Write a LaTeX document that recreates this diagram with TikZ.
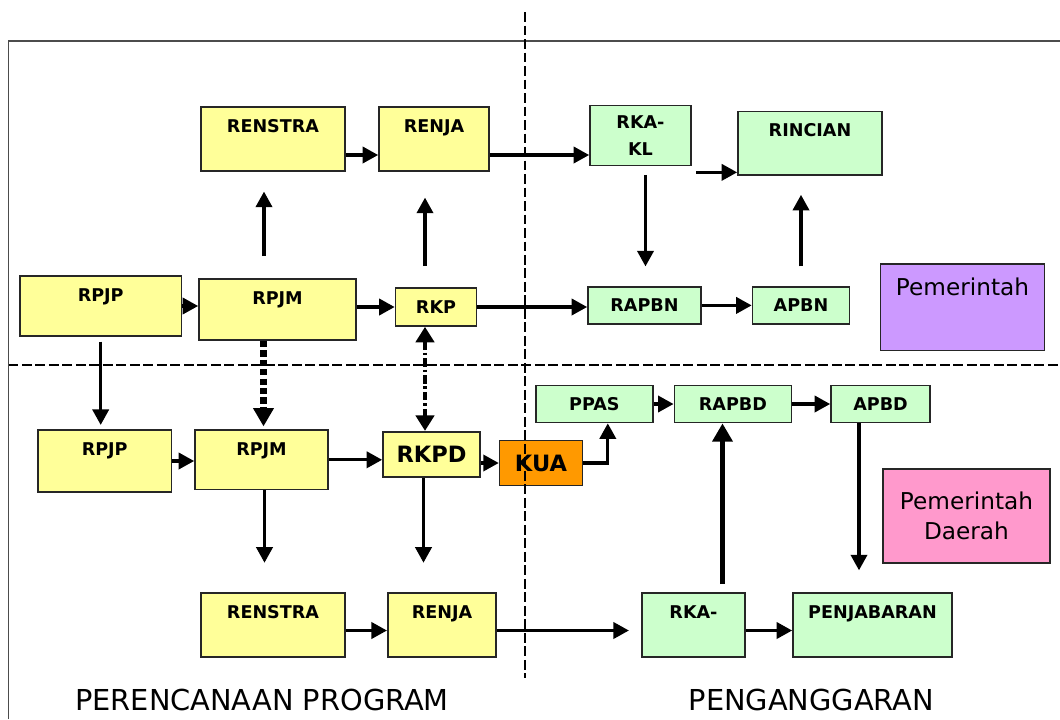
\documentclass[tikz,border=0pt]{standalone}
\usepackage{fontspec}
\setmainfont{DejaVu Sans}
\usetikzlibrary{arrows.meta,calc}

\definecolor{kuning}{HTML}{FFFF99}
\definecolor{hijau}{HTML}{CCFFCC}
\definecolor{oranye}{HTML}{FF9900}
\definecolor{ungu}{HTML}{CC99FF}
\definecolor{merahmuda}{HTML}{FF99CC}

\begin{document}
\begin{tikzpicture}[x=0.025cm, y=-0.025cm,
    >={Triangle[length=11pt,width=11.5pt]},
    box/.style={ draw=black!85, line width=1.2pt, inner sep=0pt,
      font=\fontsize{12.5}{14}\selectfont\bfseries },
    tallbox/.style={ box, text height=18pt, text depth=#1 },
    flatbox/.style={ box, minimum height=#1 },
    arrow/.style={ ->, line width=2.2pt },
    bigarrow/.style={ ->, line width=4.2pt,
      >={Triangle[length=13pt,width=14pt]} },
    dasharrow/.style={ ->, line width=5pt, dash pattern=on 4.5pt off 2.2pt,
      >={Triangle[length=13pt,width=14pt]} },
    dotarrow/.style={ <->, line width=2.6pt,
      dash pattern=on 6pt off 2pt on 2pt off 2pt,
      >={Triangle[length=11pt,width=13pt]} },
    divider/.style={ line width=2pt, dash pattern=on 7pt off 2.6pt },
    title/.style={ anchor=base, font=\fontsize{20.5}{24}\selectfont } ]
  \useasboundingbox (0,0) rectangle (1060,719);

  % frame
  \draw[black!70, line width=1.4pt] (8.5,719) -- (8.5,40.6) -- (1060,40.6);

  % boxes
  \foreach \x/\y/\w/\d/\n/\l in {273/139/3.6/27.2pt/renstra/RENSTRA,
    434/139/2.75/27.2pt/renja/RENJA, 100.7/306/4.04/24.3pt/rpjp/RPJP,
    277.5/309.5/3.925/25.4pt/rpjm/RPJM, 104.7/461/3.335/26.1pt/rpjpd/RPJP,
    261.5/459.8/3.325/24.3pt/rpjmd/RPJM, 273/625/3.6/27.4pt/renstrad/RENSTRA,
    442/625/2.71/27.4pt/renjad/RENJA}
  \node[tallbox=\d, minimum width=\w cm, fill=kuning] (\n) at (\x,\y) {\l};
  \foreach \x/\y/\w/\d/\n/\l in {810/143.3/3.6/27.1pt/rincian/RINCIAN,
    693.5/625/2.575/27.4pt/rkad/RKA-,
    872.5/625/3.975/27.4pt/penjabaran/PENJABARAN}
  \node[tallbox=\d, minimum width=\w cm, fill=hijau] (\n) at (\x,\y) {\l};
  \foreach \x/\y/\w/\h/\c/\n/\l in {436/307/2.025/0.95/kuning/rkp/RKP,
    644.5/305.4/2.825/0.925/hijau/rapbn/RAPBN,
    801/305.4/2.425/0.925/hijau/apbn/APBN,
    594.4/404/2.92/0.925/hijau/ppas/PPAS,
    732.9/404/2.925/0.925/hijau/rapbd/RAPBD,
    880.5/404/2.475/0.925/hijau/apbd/APBD}
  \node[flatbox=\h cm, minimum width=\w cm, fill=\c] (\n) at (\x,\y) {\l};
  \node[box, fill=hijau, minimum width=2.525cm, minimum height=1.5cm,
    align=center, font=\fontsize{12.5}{19}\selectfont\bfseries] (rkakl)
    at (640.5,135.5) {RKA-\\KL};
  \node[box, fill=kuning, minimum width=2.425cm, minimum height=1.14cm,
    font=\fontsize{16}{19}\selectfont\bfseries] (rkpd) at (431.5,454.5) {RKPD};
  \node[box, fill=oranye, minimum width=2.07cm, minimum height=1.13cm,
    font=\fontsize{16}{19}\selectfont\bfseries] (kua) at (541,463) {KUA};
  \node[box, fill=ungu, minimum width=4.1cm, text height=22.7pt,
    text depth=38.9pt, font=\fontsize{16.5}{20}\selectfont] (pusat)
    at (962.5,307.3) {Pemerintah};
  \node[box, fill=merahmuda, minimum width=4.175cm, minimum height=2.365cm,
    align=center, font=\fontsize{16.5}{21.3}\selectfont] (pemda)
    at (966.5,516) {Pemerintah\\Daerah};

  \node[title] (perencanaan) at (262,710) {PERENCANAAN PROGRAM};
  \node[title] (penganggaran) at (811.4,710) {PENGANGGARAN};

  % connectors, upper half
  \draw[arrow] ($(renstra.east)+(0,16)$) -- ($(renja.west)+(0,16)$);
  \draw[arrow] ($(renja.east)+(0,16)$) coordinate (p) -- (p -| rkakl.west);
  \draw[arrow, shorten <=15.6pt, shorten >=14.2pt]
    ($(rpjm.north)+(-13.5,0)$) coordinate (p) -- (p |- renstra.south);
  \draw[arrow, shorten <=15pt, shorten >=18.5pt]
    ($(rkp.north)+(-11,0)$) coordinate (p) -- (p |- renja.south);
  \draw[arrow] (rpjp.east) -- (rpjp.east -| rpjm.west);
  \draw[arrow] (rkp.west -| rpjm.east) -- (rkp.west);
  \draw[arrow] (rkp.east) -- (rkp.east -| rapbn.west);
  \draw[arrow, shorten <=6pt, shorten >=14pt]
    ($(rkakl.south)+(5,0)$) coordinate (p) -- (p |- rapbn.north);
  \draw[arrow] ($(rkakl.south east)+(4.6,6)$) coordinate (p) -- (p -| rincian.west);
  \draw[arrow] (rapbn.east) -- (apbn.west);
  \draw[arrow, shorten <=14pt, shorten >=13.5pt] (apbn.north) -- (apbn.north |- rincian.south);

  % connectors between the halves
  \draw[arrow, shorten <=3.5pt, shorten >=3pt] (rpjp.south) -- (rpjp.south |- rpjpd.north);
  \draw[dasharrow, shorten >=2pt] ($(rpjmd.north |- rpjm.south)+(2,0)$) coordinate (p)
    -- (p |- rpjmd.north);
  \draw[dotarrow] ($(rkp.south)+(-11,0)$) coordinate (p) -- (p |- rkpd.north);

  % connectors, lower half
  \draw[arrow] (rpjpd.east) -- (rpjpd.east -| rpjmd.west);
  \draw[arrow] (rpjmd.east) -- (rpjmd.east -| rkpd.west);
  \draw[arrow] (rkpd.east |- kua.west) -- (kua.west);
  \draw[arrow] (kua.east) -| ($(ppas.south)+(13.4,0)$);
  \draw[arrow] (ppas.east) -- (rapbd.west);
  \draw[arrow] (rapbd.east) -- (apbd.west);
  \draw[bigarrow, shorten <=5.8pt] ($(rkad.north)+(29,0)$) coordinate (p) -- (p |- rapbd.south);
  \draw[arrow, shorten >=15.6pt] ($(apbd.south)+(-21.5,0)$) coordinate (p)
    -- (p |- penjabaran.north);
  \draw[arrow, shorten >=21pt] ($(rpjmd.south)+(3,0)$) coordinate (p) -- (p |- renstrad.north);
  \draw[arrow, shorten >=21pt] ($(rkpd.south)+(-8,0)$) coordinate (p) -- (p |- renjad.north);
  \draw[arrow] ($(renstrad.east)+(0,5.5)$) -- ($(renjad.west)+(0,5.5)$);
  \draw[arrow, shorten >=8.7pt] ($(renjad.east)+(0,5.5)$) -- ($(rkad.west)+(0,5.5)$);
  \draw[arrow] ($(rkad.east)+(0,5.5)$) -- ($(penjabaran.west)+(0,5.5)$);

  % dividers
  \draw[divider] (8.5,365) -- (1060,365);
  \draw[divider] (525,12) -- (525,678);
\end{tikzpicture}
\end{document}
